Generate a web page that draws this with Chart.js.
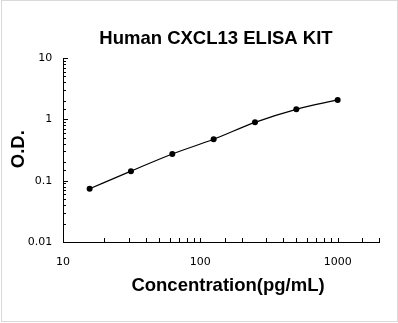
<!DOCTYPE html>
<html><head><meta charset="utf-8">
<script src="https://cdn.jsdelivr.net/npm/chart.js@4"></script>
<style>html,body{margin:0;padding:0;background:#fff}#wrap{width:398px;height:323px;position:relative}</style>
</head><body><div id="wrap"><canvas id="c" width="398" height="323"></canvas></div>
<script>
const titleText = 'Human CXCL13 ELISA KIT';
const xTitleText = 'Concentration(pg/mL)';
const yTitleText = 'O.D.';
const concentrations = [15.625, 31.25, 62.5, 125, 250, 500, 1000];
const odValues = [0.074, 0.143, 0.272, 0.473, 0.893, 1.456, 2.07];
const xTickLabels = [10, 100, 1000];
const yTickLabels = [0.01, 0.1, 1, 10];

function isMajor(v, list){ return list.some(m => Math.abs(m - v) < m * 1e-6); }

const frameAndText = {
  id: 'frameAndText',
  beforeDraw(chart){
    const ctx = chart.ctx;
    ctx.save();
    ctx.fillStyle = '#fff';
    ctx.fillRect(0,0,chart.width,chart.height);
    ctx.strokeStyle = '#d9d9d9';
    ctx.lineWidth = 1;
    ctx.strokeRect(1.5, 0.5, 396, 321);
    ctx.restore();
  },
  afterDraw(chart){
    const {ctx, scales:{x, y}, chartArea:a} = chart;
    ctx.save();
    ctx.strokeStyle = '#000';
    ctx.lineWidth = 1;
    ctx.beginPath();
    y.ticks.forEach(t => {
      const py = Math.round(y.getPixelForValue(t.value)) + 0.5;
      const len = isMajor(t.value, yTickLabels) ? 5 : 3;
      ctx.moveTo(a.left, py); ctx.lineTo(a.left + len, py);
    });
    x.ticks.forEach(t => {
      if (t.value <= x.min * 1.0001) return;
      const px = Math.round(x.getPixelForValue(t.value)) + 0.5;
      ctx.moveTo(px, a.bottom); ctx.lineTo(px, a.bottom - 4);
    });
    ctx.stroke();
    ctx.fillStyle = '#000';
    ctx.font = 'bold 18.5px "Liberation Sans", Arial, sans-serif';
    ctx.textAlign = 'center';
    ctx.textBaseline = 'alphabetic';
    ctx.fillText(titleText, 216, 44.3);
    ctx.fillText(xTitleText, 228, 291);
    ctx.translate(24, 149.2);
    ctx.rotate(-Math.PI/2);
    ctx.fillText(yTitleText, 0, 0);
    ctx.restore();
  }
};

new Chart(document.getElementById('c'), {
  type: 'line',
  data: {
    datasets: [{
      data: concentrations.map((c, i) => ({x: c, y: odValues[i]})),
      borderColor: '#000',
      backgroundColor: '#000',
      borderWidth: 1.2,
      pointRadius: 3,
      pointBorderWidth: 0,
      pointBackgroundColor: '#000',
      cubicInterpolationMode: 'monotone',
      fill: false
    }]
  },
  options: {
    responsive: false,
    animation: false,
    devicePixelRatio: 1,
    layout: {padding: {left: 0, right: 19, top: 58, bottom: 0}},
    plugins: {legend: {display: false}, title: {display: false}, tooltip: {enabled: false}},
    scales: {
      x: {
        type: 'logarithmic', min: 10, max: 2000,
        grid: {display: false, drawTicks: false},
        border: {display: true, color: '#000', width: 1},
        ticks: {
          autoSkip: false, maxRotation: 0, padding: 13.5, color: '#000',
          font: {family: '"DejaVu Sans", Verdana, sans-serif', size: 11},
          callback: v => isMajor(v, xTickLabels) ? String(v) : ''
        },
        afterFit: s => { s.height = 81; }
      },
      y: {
        type: 'logarithmic', min: 0.01, max: 10,
        grid: {display: false, drawTicks: false},
        border: {display: true, color: '#000', width: 1},
        ticks: {
          autoSkip: false, padding: 10.7, color: '#000',
          font: {family: '"DejaVu Sans", Verdana, sans-serif', size: 11},
          callback: v => isMajor(v, yTickLabels) ? String(v) : ''
        },
        afterFit: s => { s.width = 63; }
      }
    }
  },
  plugins: [frameAndText]
});
</script>
</body></html>
